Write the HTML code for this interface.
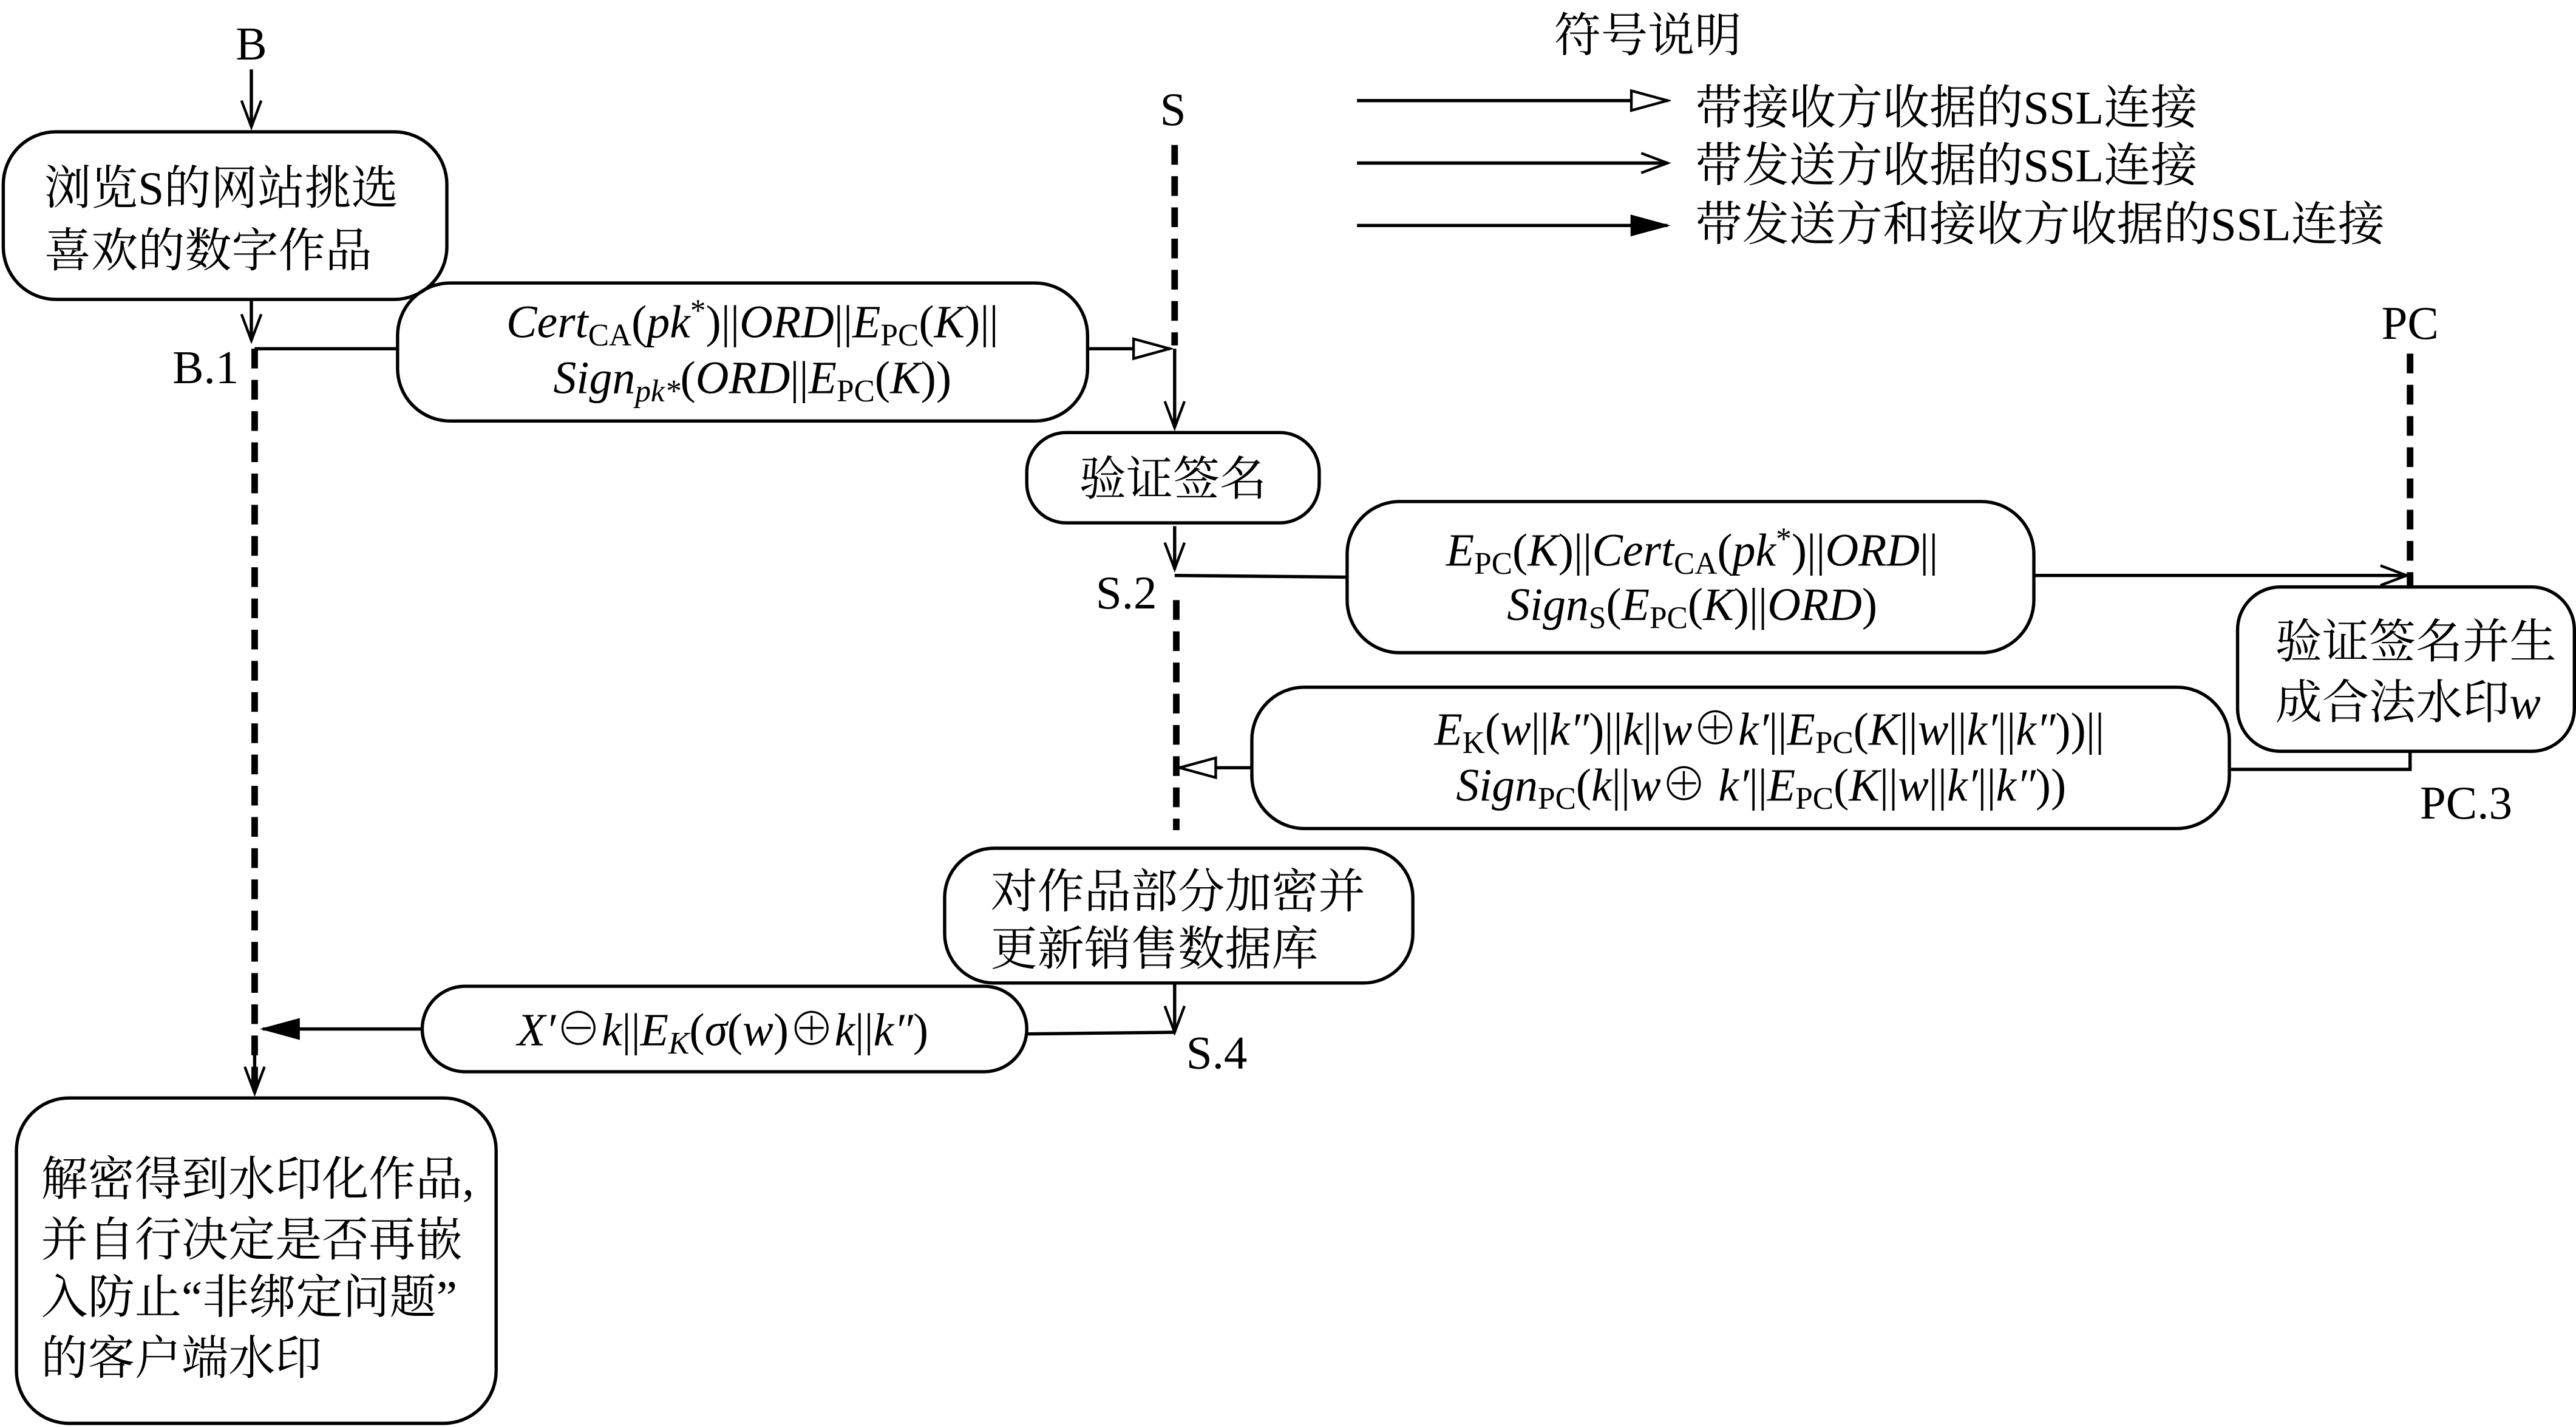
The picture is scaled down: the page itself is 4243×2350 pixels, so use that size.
<!DOCTYPE html>
<html><head><meta charset="utf-8"><style>
html,body{margin:0;padding:0;background:#fff}
svg{display:block}
.cn{font-family:"Liberation Serif","Noto Serif CJK SC",serif;font-size:28.5px;fill:#000}
.f{font-family:"Liberation Serif","Noto Serif CJK SC",serif;font-size:28px;fill:#000}
.i{font-style:italic}
.s{font-size:19px}
</style></head><body>
<svg width="4243" height="2350" viewBox="0 0 1568 868" xmlns="http://www.w3.org/2000/svg">
<defs>
<marker id="open" markerWidth="20" markerHeight="14" refX="18" refY="7" orient="auto" markerUnits="userSpaceOnUse"><path d="M2,1 L18,7 L2,13" fill="none" stroke="#000" stroke-width="1.6"/></marker>
<marker id="tri" markerWidth="26" markerHeight="16" refX="24" refY="8" orient="auto" markerUnits="userSpaceOnUse"><path d="M2,2 L24,8 L2,14 Z" fill="#fff" stroke="#000" stroke-width="1.6"/></marker>
<marker id="fill" markerWidth="26" markerHeight="16" refX="24" refY="8" orient="auto" markerUnits="userSpaceOnUse"><path d="M2,2 L24,8 L2,14 Z" fill="#000" stroke="#000" stroke-width="1"/></marker>
</defs>
<g stroke="#000" stroke-width="2" fill="none">
<line x1="153" y1="42" x2="153" y2="77" marker-end="url(#open)"/>
<rect x="2" y="80" width="270" height="102" rx="32"/>
<line x1="153" y1="182" x2="153" y2="207" marker-end="url(#open)"/>
<line x1="155" y1="212" x2="242" y2="212"/>
<line x1="155" y1="212" x2="155" y2="660" stroke-width="4" stroke-dasharray="12,7"/>
<rect x="242" y="172" width="420" height="84" rx="32"/>
<line x1="662" y1="212" x2="712" y2="212" marker-end="url(#tri)"/>
<line x1="715" y1="88" x2="715" y2="210" stroke-width="4" stroke-dasharray="12,7"/>
<line x1="715" y1="212" x2="715" y2="260" marker-end="url(#open)"/>
<rect x="625" y="263" width="178" height="55" rx="24"/>
<line x1="715" y1="320" x2="715" y2="346" marker-end="url(#open)"/>
<line x1="715" y1="350" x2="820" y2="351"/>
<rect x="820" y="305" width="418" height="92" rx="32"/>
<line x1="1238" y1="350" x2="1465" y2="350" marker-end="url(#open)"/>
<line x1="1467" y1="215" x2="1467" y2="358" stroke-width="4" stroke-dasharray="12,7"/>
<rect x="1362" y="357" width="205" height="100" rx="26"/>
<polyline points="1467,457 1467,468 1358,468"/>
<rect x="762" y="418" width="595" height="86" rx="32"/>
<line x1="762" y1="467" x2="718" y2="467" marker-end="url(#tri)"/>
<line x1="716" y1="365" x2="716" y2="505" stroke-width="4" stroke-dasharray="12,7"/>
<rect x="575" y="516" width="285" height="82" rx="30"/>
<line x1="715" y1="598" x2="715" y2="628" marker-end="url(#open)"/>
<line x1="715" y1="628" x2="625" y2="629"/>
<rect x="257" y="600" width="368" height="52" rx="26"/>
<line x1="257" y1="626" x2="160" y2="626" marker-end="url(#fill)"/>
<line x1="155" y1="630" x2="155" y2="665" marker-end="url(#open)"/>
<rect x="10" y="668" width="292" height="198" rx="32"/>
<line x1="826" y1="61" x2="1015" y2="61" marker-end="url(#tri)"/>
<line x1="826" y1="99" x2="1015" y2="99" marker-end="url(#open)"/>
<line x1="826" y1="137" x2="1015" y2="137" marker-end="url(#fill)"/>
</g>
<g class="cn">
<text x="153" y="36" text-anchor="middle">B</text>
<text x="27" y="124">浏览S的网站挑选</text>
<text x="27" y="162">喜欢的数字作品</text>
<text x="105" y="233">B.1</text>
<text x="714" y="76" text-anchor="middle">S</text>
<text x="714" y="301" text-anchor="middle">验证签名</text>
<text x="667" y="370">S.2</text>
<text x="1467" y="206" text-anchor="middle">PC</text>
<text x="1385" y="400">验证签名并生</text>
<text x="1385" y="437">成合法水印<tspan class="i">w</tspan></text>
<text x="1473" y="498">PC.3</text>
<text x="603" y="552">对作品部分加密并</text>
<text x="603" y="587">更新销售数据库</text>
<text x="722" y="650">S.4</text>
<text x="25" y="727">解密得到水印化作品,</text>
<text x="25" y="764">并自行决定是否再嵌</text>
<text x="25" y="799">入防止“非绑定问题”</text>
<text x="25" y="836">的客户端水印</text>
<text x="1003" y="31" text-anchor="middle">符号说明</text>
<text x="1032" y="75">带接收方收据的SSL连接</text>
<text x="1032" y="110">带发送方收据的SSL连接</text>
<text x="1032" y="146">带发送方和接收方收据的SSL连接</text>
</g>
<g class="f" text-anchor="middle">
<text x="458" y="205"><tspan class="i">Cert</tspan><tspan class="s" dy="5">CA</tspan><tspan dy="-5">(</tspan><tspan class="i">pk</tspan><tspan class="s" dy="-10">*</tspan><tspan dy="10">)||</tspan><tspan class="i">ORD</tspan>||<tspan class="i">E</tspan><tspan class="s" dy="5">PC</tspan><tspan dy="-5">(</tspan><tspan class="i">K</tspan>)||</text>
<text x="458" y="239"><tspan class="i">Sign</tspan><tspan class="s i" dy="5">pk*</tspan><tspan dy="-5">(</tspan><tspan class="i">ORD</tspan>||<tspan class="i">E</tspan><tspan class="s" dy="5">PC</tspan><tspan dy="-5">(</tspan><tspan class="i">K</tspan>))</text>
<text x="1030" y="344"><tspan class="i">E</tspan><tspan class="s" dy="5">PC</tspan><tspan dy="-5">(</tspan><tspan class="i">K</tspan>)||<tspan class="i">Cert</tspan><tspan class="s" dy="5">CA</tspan><tspan dy="-5">(</tspan><tspan class="i">pk</tspan><tspan class="s" dy="-10">*</tspan><tspan dy="10">)||</tspan><tspan class="i">ORD</tspan>||</text>
<text x="1030" y="377"><tspan class="i">Sign</tspan><tspan class="s" dy="5">S</tspan><tspan dy="-5">(</tspan><tspan class="i">E</tspan><tspan class="s" dy="5">PC</tspan><tspan dy="-5">(</tspan><tspan class="i">K</tspan>)||<tspan class="i">ORD</tspan>)</text>
<text x="1077" y="453"><tspan class="i">E</tspan><tspan class="s" dy="5">K</tspan><tspan dy="-5">(</tspan><tspan class="i">w</tspan>||<tspan class="i">k″</tspan>)||<tspan class="i">k</tspan>||<tspan class="i">w</tspan>⊕<tspan class="i">k′</tspan>||<tspan class="i">E</tspan><tspan class="s" dy="5">PC</tspan><tspan dy="-5">(</tspan><tspan class="i">K</tspan>||<tspan class="i">w</tspan>||<tspan class="i">k′</tspan>||<tspan class="i">k″</tspan>))||</text>
<text x="1072" y="487"><tspan class="i">Sign</tspan><tspan class="s" dy="5">PC</tspan><tspan dy="-5">(</tspan><tspan class="i">k</tspan>||<tspan class="i">w</tspan>⊕ <tspan class="i">k′</tspan>||<tspan class="i">E</tspan><tspan class="s" dy="5">PC</tspan><tspan dy="-5">(</tspan><tspan class="i">K</tspan>||<tspan class="i">w</tspan>||<tspan class="i">k′</tspan>||<tspan class="i">k″</tspan>))</text>
<text x="440" y="636"><tspan class="i">X′</tspan>⊖<tspan class="i">k</tspan>||<tspan class="i">E</tspan><tspan class="s i" dy="5">K</tspan><tspan dy="-5">(</tspan><tspan class="i">σ</tspan>(<tspan class="i">w</tspan>)⊕<tspan class="i">k</tspan>||<tspan class="i">k″</tspan>)</text>
</g>
</svg>
</body></html>
